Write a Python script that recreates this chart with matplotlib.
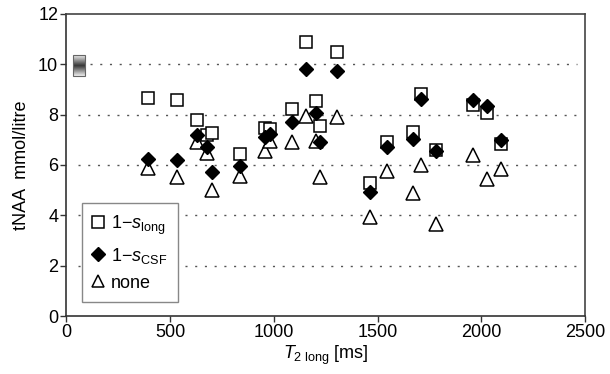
import numpy as np
import matplotlib.pyplot as plt
from matplotlib.lines import Line2D

plt.rcParams['font.family'] = ['Liberation Sans', 'DejaVu Sans']
plt.rcParams['mathtext.fontset'] = 'custom'
plt.rcParams['mathtext.rm'] = 'Liberation Sans'
plt.rcParams['mathtext.it'] = 'Liberation Sans:italic'

# T2 long [ms] and tNAA [mmol/litre] for the three corrections
t2_long = [395, 532, 630, 678, 703, 836, 957, 983, 1087, 1156, 1205, 1222, 1302,
           1461, 1546, 1670, 1707, 1782, 1962, 2026, 2093]
s_long = [8.64, 8.59, 7.80, 7.20, 7.25, 6.44, 7.47, 7.43, 8.24, 10.87, 8.53, 7.56, 10.47,
          5.27, 6.93, 7.29, 8.80, 6.60, 8.39, 8.07, 6.84]
s_csf = [6.24, 6.19, 7.19, 6.73, 5.73, 5.97, 7.11, 7.24, 7.72, 9.80, 8.07, 6.92, 9.73,
         4.92, 6.73, 7.03, 8.60, 6.57, 8.57, 8.36, 7.00]
none = [5.87, 5.53, 6.93, 6.47, 5.00, 5.57, 6.56, 6.96, 6.91, 7.93, 6.96, 5.53, 7.91,
        3.93, 5.77, 4.89, 6.00, 3.67, 6.40, 5.44, 5.83]

# reference value shown as shaded bar near the y axis
ref_t2 = 60
ref_lo, ref_hi = 9.55, 10.35

fig = plt.figure(figsize=(6.1, 3.74), dpi=100)
ax = fig.add_axes([0.109, 0.155, 0.85, 0.808])

for y in [2, 4, 6, 8]:
    ax.axhline(y, xmin=0.022, xmax=0.985, color='#555555', linestyle=(0, (1.5, 5.5)),
               linewidth=1.0, zorder=0)
ax.axhline(10, xmin=0.045, xmax=0.985, color='#555555', linestyle=(0, (1.5, 5.5)),
           linewidth=1.0, zorder=0)

# gradient bar
grad = np.abs(np.linspace(-1, 1, 50))[:, None]
ax.imshow(grad, cmap='gray', extent=[ref_t2 - 30, ref_t2 + 30, ref_lo, ref_hi],
          aspect='auto', vmin=-0.3, vmax=1.1, zorder=2)
ax.add_patch(plt.Rectangle((ref_t2 - 30, ref_lo), 60, ref_hi - ref_lo, fill=False,
                           edgecolor='#666666', linewidth=0.8, zorder=3))

ax.plot(t2_long, none, linestyle='none', marker='^', markersize=9.5,
        markerfacecolor='white', markeredgecolor='black', markeredgewidth=1.1, zorder=3)
ax.plot(t2_long, s_long, linestyle='none', marker='s', markersize=8,
        markerfacecolor='white', markeredgecolor='black', markeredgewidth=1.1, zorder=4)
ax.plot(t2_long, s_csf, linestyle='none', marker='D', markersize=7.2,
        markerfacecolor='black', markeredgecolor='black', zorder=5)

ax.set_xlim(0, 2500)
ax.set_ylim(0, 12)
ax.set_xticks([0, 500, 1000, 1500, 2000, 2500])
ax.set_yticks([0, 2, 4, 6, 8, 10, 12])
ax.tick_params(labelsize=13, direction='out', length=4, width=1, color='#333333', pad=2)
for side in ['left', 'bottom']:
    ax.spines[side].set_color('#333333')
    ax.spines[side].set_linewidth(1.2)
for side in ['top', 'right']:
    ax.spines[side].set_color('#444444')
    ax.spines[side].set_linewidth(1.2)

ax.set_xlabel(r'$\mathit{T}_{2\ \mathrm{long}}$ [ms]', fontsize=13, labelpad=2)
ax.set_ylabel('tNAA  mmol/litre', fontsize=13, labelpad=6)

handles = [
    Line2D([], [], linestyle='none', marker='s', markersize=8, markerfacecolor='white',
           markeredgecolor='black', markeredgewidth=1.1),
    Line2D([], [], linestyle='none', marker='D', markersize=7, markerfacecolor='black',
           markeredgecolor='black'),
    Line2D([], [], linestyle='none', marker='^', markersize=9, markerfacecolor='white',
           markeredgecolor='black', markeredgewidth=1.1),
]
labels = [r'1$-\mathit{s}_{\mathrm{long}}$', r'1$-\mathit{s}_{\mathrm{CSF}}$', 'none']
leg = ax.legend(handles, labels, loc='lower left', bbox_to_anchor=(0.03, 0.045),
                borderaxespad=0, fontsize=13, frameon=True, fancybox=False,
                handlelength=0.6, handletextpad=0.4, labelspacing=0.5, borderpad=0.6,
                framealpha=1)
leg.get_frame().set_edgecolor('#888888')
leg.get_frame().set_linewidth(1.0)

fig.savefig('out.png', dpi=100)
